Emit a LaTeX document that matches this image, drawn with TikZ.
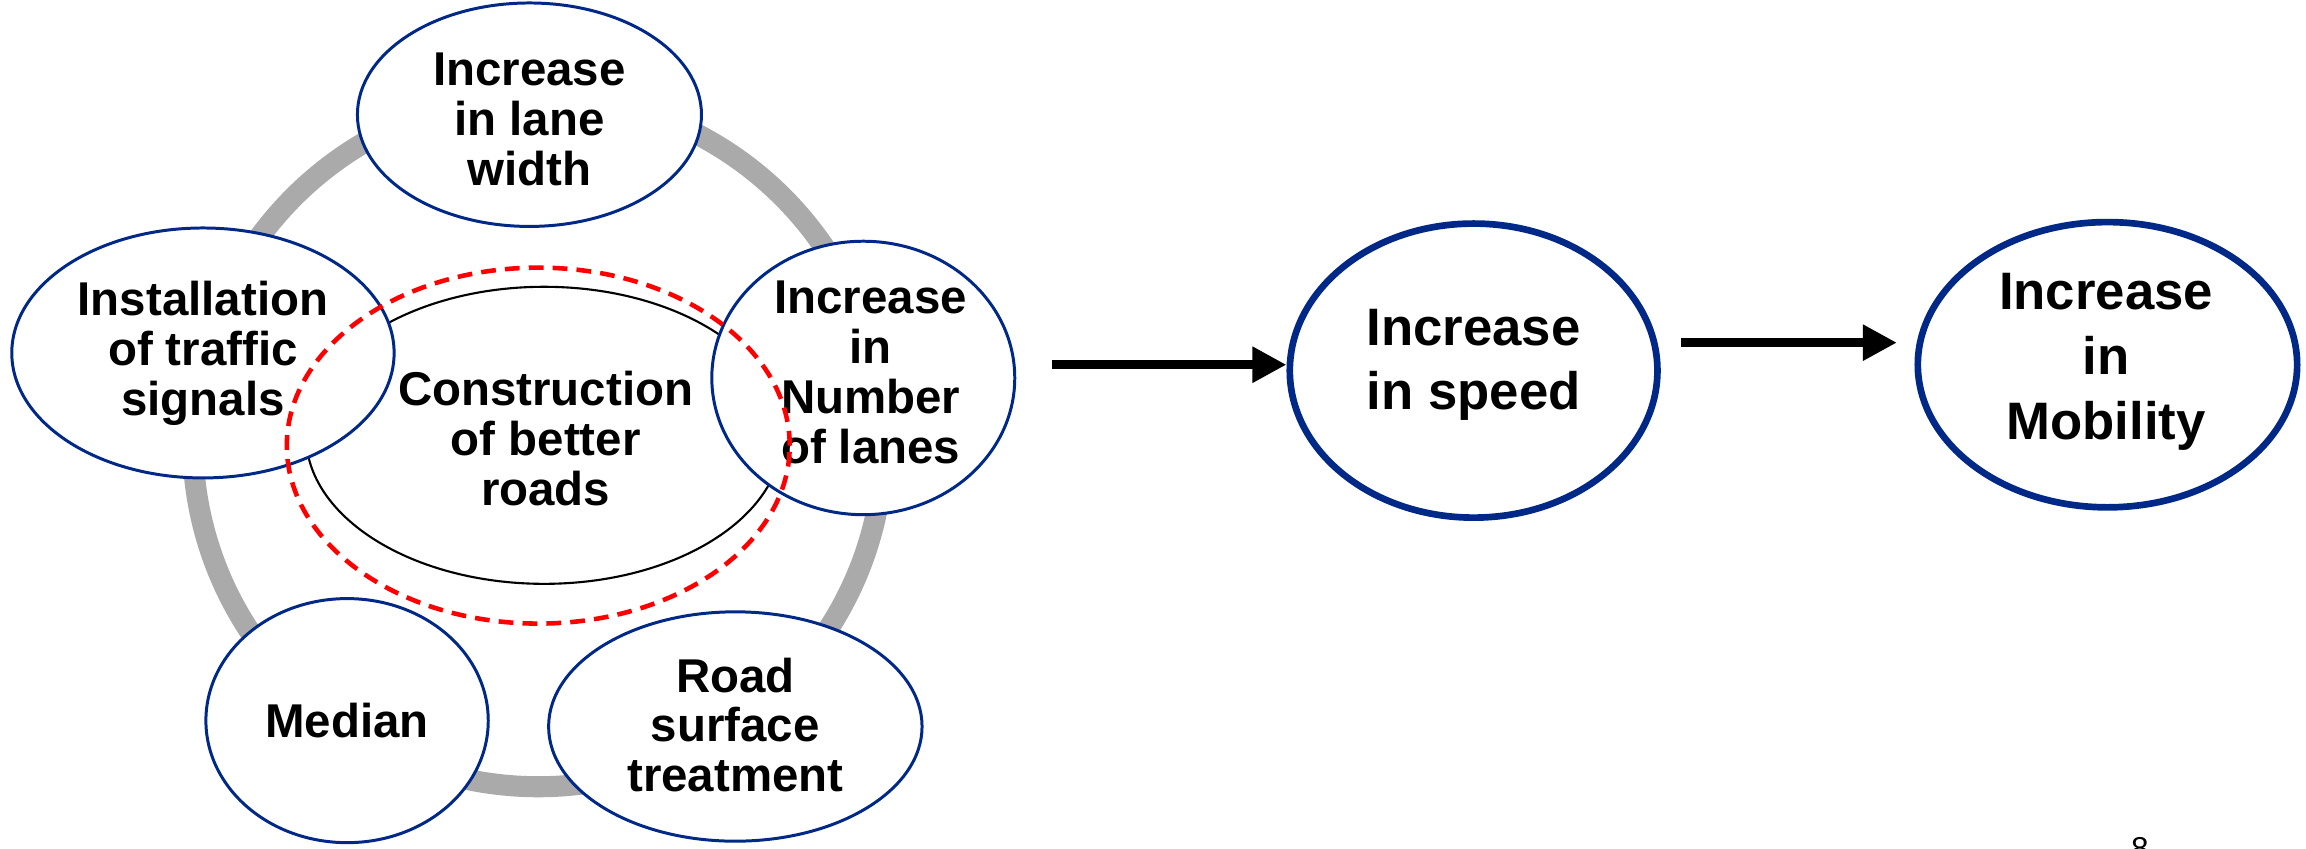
\documentclass[tikz,border=0pt]{standalone}
\usepackage{fontspec}
\setmainfont{Liberation Sans}
\usetikzlibrary{shapes.geometric,arrows.meta}
\definecolor{navy}{RGB}{0,40,135}
\definecolor{ringgray}{RGB}{170,170,170}
\definecolor{dashred}{RGB}{255,0,0}
\begin{document}
\begin{tikzpicture}[x=0.014707cm,y=-0.014707cm,
 bub/.style={ellipse,draw=navy,line width=0.85pt,fill=white,inner sep=0pt},
 big/.style={ellipse,draw=navy,line width=1.9pt,fill=white,inner sep=0pt},
 txt/.style={align=center,font=\bfseries\fontsize{13.5}{14.2}\selectfont,inner sep=0pt},
 bigtxt/.style={align=center,font=\bfseries\fontsize{15}{18.4}\selectfont,inner sep=0pt},
 arr/.style={line width=2.6pt,-{Triangle[length=0.34cm,width=0.34cm]}}]
\useasboundingbox (0,0) rectangle (1568,577);
% ring
\draw[ringgray,line width=6pt] (366,300) circle (3.456cm);
% core
\node[ellipse,draw=black,line width=0.6pt,fill=white,inner sep=0pt,minimum width=4.765cm,minimum height=2.971cm] (core) at (370,296) {};
% satellites
\node[bub,minimum width=3.824cm,minimum height=2.500cm] (sig) at (138,240) {};
\node[bub,minimum width=3.030cm,minimum height=2.735cm] (num) at (587,257) {};
\node[bub,minimum width=3.441cm,minimum height=2.235cm] (lane) at (360,78) {};
\node[bub,minimum width=2.824cm,minimum height=2.441cm] (med) at (236,490) {};
\node[bub,minimum width=3.735cm,minimum height=2.294cm] (road) at (500,494) {};
% texts
\node[txt] (coret) at (371,298) {Construction\\of better\\roads};
\node[txt] (sigt) at (138,240) {Installation\\of traffic\\signals};
\node[txt] (numt) at (592,253) {Increase\\in\\Number\\of lanes};
\node[txt] (lanet) at (360,81) {Increase\\in lane\\width};
\node[txt] (medt) at (236,490) {Median};
\node[txt] (roadt) at (500,493) {Road\\surface\\treatment};
% highlight
\node[ellipse,draw=dashred,line width=1.3pt,dash pattern=on 4.2pt off 2.6pt,inner sep=0pt,minimum width=5.03cm,minimum height=3.56cm] (hl) at (366,303) {};
% outcomes
\node[big,minimum width=3.677cm,minimum height=2.941cm] (speed) at (1002,252) {};
\node[bigtxt] (speedt) at (1002,248) {Increase\\in speed};
\node[big,minimum width=3.794cm,minimum height=2.853cm] (mob) at (1433,248) {};
\node[bigtxt] (mobt) at (1432,246) {Increase\\in\\Mobility};
% arrows
\coordinate (a1s) at (715,248);
\coordinate (a2s) at (1143,233);
\draw[arr] (a1s) -- (a1s -| speed.west);
\draw[arr,shorten >=5pt] (a2s) -- (a2s -| mob.west);
% page number
\node[anchor=north,font=\fontsize{9}{10}\selectfont,inner sep=0pt] (pg) at (1455,569) {8};
\end{tikzpicture}
\end{document}
